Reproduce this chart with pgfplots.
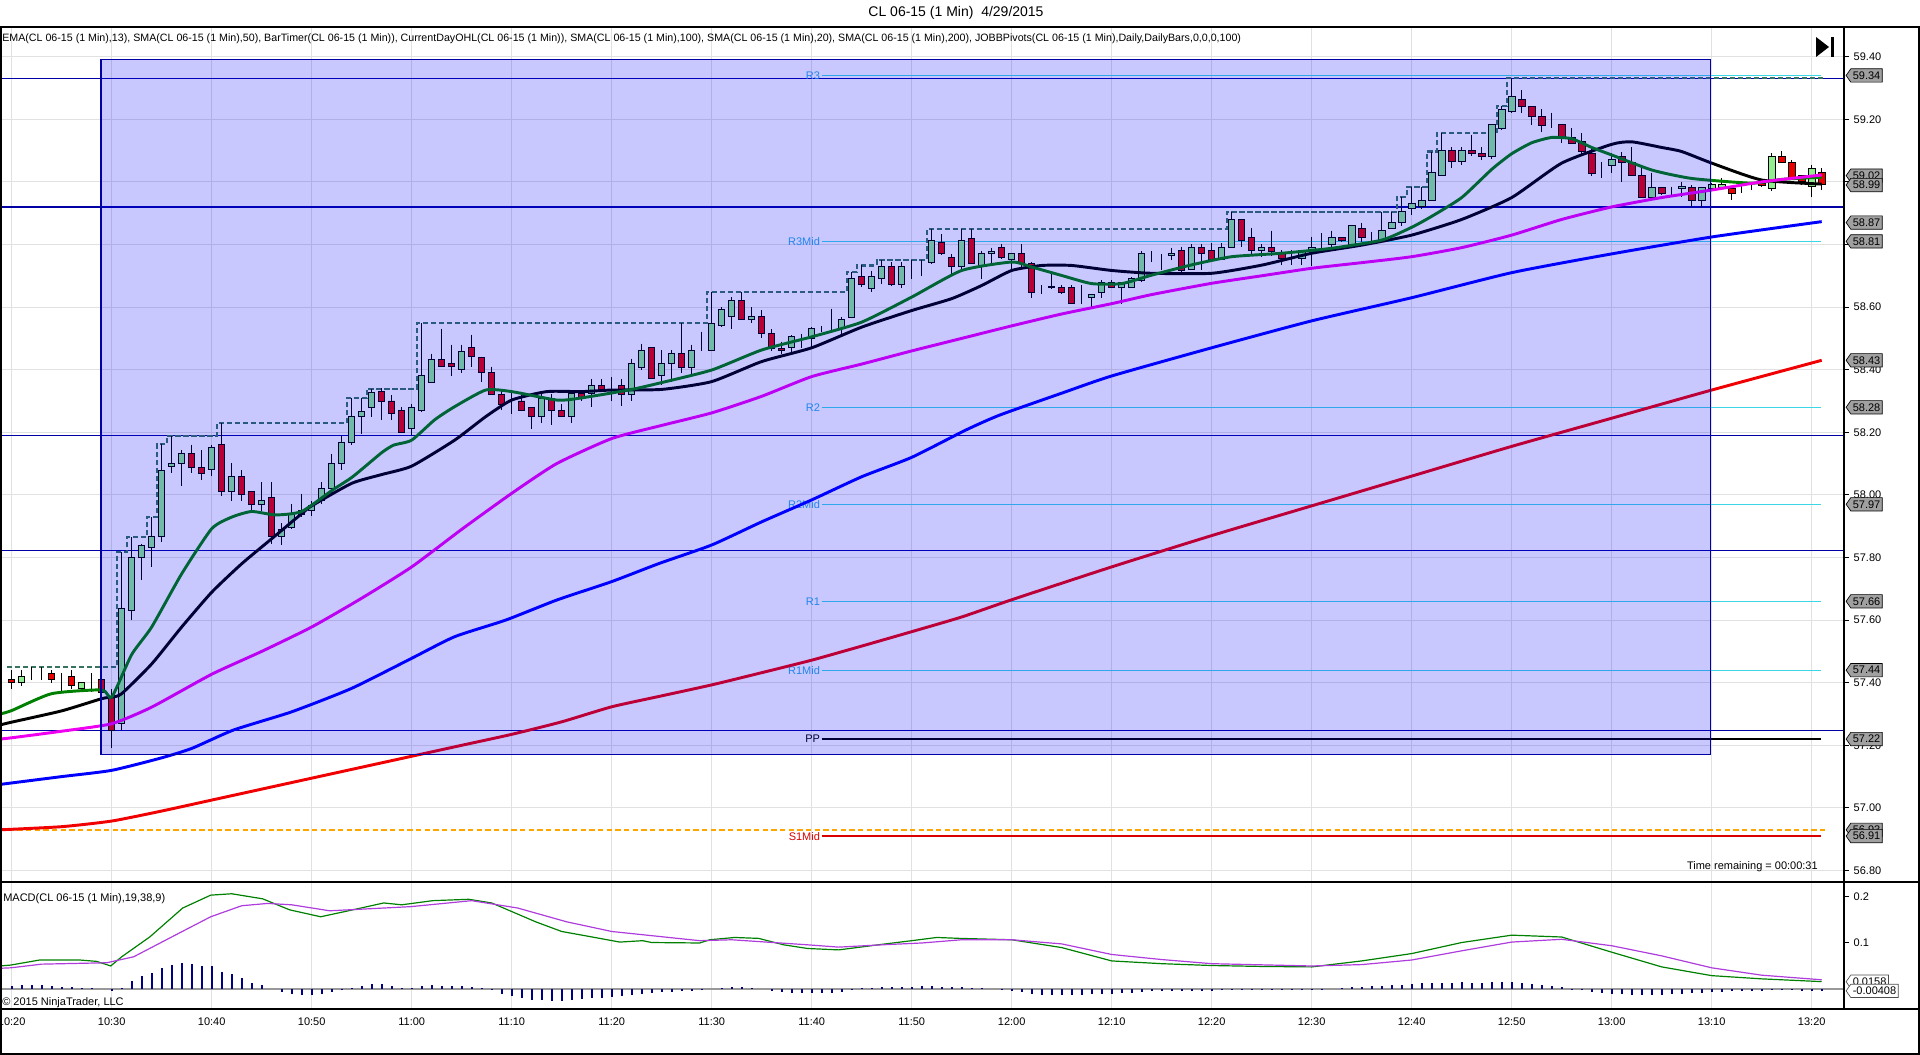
\documentclass[border=0pt]{standalone}
\usepackage{pgfplots}
\pgfplotsset{compat=1.18}
\usepackage{pgfplotstable}
\usepackage{fontspec}
\setmainfont{Liberation Sans}
\usetikzlibrary{shapes.symbols}

\definecolor{upc}{RGB}{144,238,144}
\definecolor{dnc}{RGB}{235,0,0}
\definecolor{emac}{RGB}{0,128,0}
\definecolor{magc}{RGB}{240,0,240}
\definecolor{bluec}{RGB}{0,0,255}
\definecolor{redc}{RGB}{240,0,0}
\definecolor{navyl}{RGB}{0,0,165}
\definecolor{pivc}{RGB}{60,215,230}
\definecolor{pivt}{RGB}{40,170,230}
\definecolor{ohlc}{RGB}{55,115,95}
\definecolor{gridc}{RGB}{225,225,225}
\definecolor{avgc}{RGB}{175,60,220}
\definecolor{histc}{RGB}{0,0,130}
\definecolor{tagc}{RGB}{160,160,160}
\definecolor{orangec}{RGB}{255,165,0}

\newcommand\sm{\fontsize{8.25}{9.9}\selectfont}

% minute (since 10:00), open, high, low, close
\pgfplotstableread{
m o h l c
20 57.410 57.440 57.380 57.400
21 57.400 57.440 57.390 57.420
22 57.430 57.450 57.410 57.430
23 57.430 57.450 57.410 57.430
24 57.430 57.440 57.400 57.410
25 57.410 57.430 57.370 57.410
26 57.420 57.440 57.380 57.390
27 57.380 57.400 57.370 57.400
28 57.390 57.430 57.370 57.390
29 57.410 57.410 57.370 57.370
30 57.354 57.380 57.190 57.248
31 57.270 57.817 57.250 57.638
32 57.631 57.865 57.599 57.799
33 57.799 57.844 57.727 57.839
34 57.833 57.929 57.769 57.867
35 57.867 58.163 57.849 58.078
36 58.090 58.189 58.070 58.100
37 58.102 58.142 58.028 58.131
38 58.131 58.161 58.070 58.089
39 58.089 58.142 58.048 58.070
40 58.080 58.161 58.059 58.150
41 58.160 58.229 57.998 58.011
42 58.011 58.102 57.982 58.060
43 58.060 58.078 57.982 58.000
44 58.011 58.011 57.950 57.970
45 57.970 58.041 57.950 57.982
46 57.991 58.041 57.844 57.868
47 57.868 57.910 57.839 57.889
48 57.897 57.970 57.892 57.937
49 57.937 58.004 57.929 57.950
50 57.950 57.982 57.934 57.965
51 57.982 58.041 57.970 58.020
52 58.020 58.131 58.004 58.100
53 58.100 58.189 58.078 58.169
54 58.169 58.310 58.158 58.249
55 58.249 58.310 58.195 58.268
56 58.280 58.339 58.249 58.328
57 58.330 58.340 58.240 58.300
58 58.300 58.318 58.238 58.259
59 58.270 58.281 58.199 58.199
60 58.211 58.291 58.190 58.280
61 58.270 58.549 58.265 58.382
62 58.360 58.451 58.360 58.432
63 58.432 58.531 58.410 58.410
64 58.419 58.480 58.380 58.410
65 58.400 58.480 58.390 58.459
66 58.470 58.512 58.408 58.442
67 58.440 58.442 58.360 58.390
68 58.390 58.410 58.321 58.321
69 58.321 58.339 58.270 58.289
70 58.293 58.328 58.259 58.293
71 58.300 58.330 58.270 58.270
72 58.280 58.280 58.211 58.249
73 58.249 58.323 58.229 58.309
74 58.309 58.323 58.222 58.270
75 58.270 58.290 58.251 58.251
76 58.251 58.330 58.229 58.323
77 58.323 58.330 58.300 58.310
78 58.323 58.371 58.280 58.350
79 58.350 58.371 58.330 58.336
80 58.344 58.376 58.300 58.344
81 58.350 58.371 58.283 58.321
82 58.321 58.435 58.300 58.419
83 58.408 58.483 58.400 58.462
84 58.470 58.470 58.371 58.371
85 58.380 58.462 58.350 58.419
86 58.419 58.462 58.360 58.451
87 58.451 58.549 58.390 58.408
88 58.408 58.480 58.380 58.462
89 58.470 58.522 58.460 58.470
90 58.462 58.648 58.460 58.549
91 58.541 58.600 58.535 58.591
92 58.570 58.632 58.531 58.621
93 58.621 58.648 58.560 58.560
94 58.560 58.600 58.550 58.570
95 58.570 58.590 58.500 58.515
96 58.515 58.530 58.460 58.467
97 58.467 58.490 58.450 58.460
98 58.470 58.510 58.450 58.507
99 58.499 58.515 58.470 58.499
100 58.499 58.536 58.470 58.531
101 58.531 58.540 58.520 58.531
102 58.531 58.595 58.525 58.531
103 58.531 58.568 58.504 58.560
104 58.568 58.712 58.568 58.690
105 58.698 58.733 58.664 58.671
106 58.659 58.716 58.648 58.698
107 58.690 58.751 58.675 58.730
108 58.730 58.744 58.668 58.671
109 58.671 58.744 58.660 58.730
110 58.733 58.751 58.690 58.733
111 58.738 58.751 58.700 58.738
112 58.744 58.850 58.738 58.813
113 58.808 58.834 58.765 58.770
114 58.760 58.770 58.702 58.730
115 58.730 58.850 58.717 58.813
116 58.820 58.850 58.738 58.740
117 58.733 58.780 58.690 58.770
118 58.770 58.790 58.738 58.779
119 58.790 58.800 58.754 58.760
120 58.751 58.770 58.722 58.770
121 58.770 58.800 58.728 58.740
122 58.740 58.744 58.629 58.648
123 58.659 58.669 58.643 58.659
124 58.662 58.706 58.659 58.666
125 58.662 58.669 58.641 58.648
126 58.662 58.669 58.611 58.611
127 58.621 58.669 58.611 58.621
128 58.630 58.640 58.600 58.640
129 58.648 58.685 58.630 58.680
130 58.680 58.685 58.662 58.662
131 58.662 58.680 58.611 58.680
132 58.662 58.695 58.662 58.690
133 58.685 58.779 58.680 58.770
134 58.761 58.780 58.745 58.761
135 58.761 58.770 58.720 58.761
136 58.764 58.790 58.750 58.772
137 58.780 58.793 58.710 58.718
138 58.720 58.800 58.718 58.790
139 58.790 58.800 58.720 58.770
140 58.780 58.804 58.745 58.752
141 58.752 58.804 58.750 58.790
142 58.790 58.905 58.788 58.880
143 58.880 58.880 58.793 58.814
144 58.823 58.852 58.766 58.780
145 58.780 58.800 58.761 58.790
146 58.790 58.844 58.763 58.777
147 58.772 58.782 58.734 58.756
148 58.761 58.782 58.734 58.761
149 58.756 58.782 58.734 58.780
150 58.777 58.825 58.731 58.790
151 58.804 58.836 58.788 58.804
152 58.800 58.844 58.793 58.823
153 58.823 58.823 58.809 58.814
154 58.800 58.862 58.798 58.862
155 58.851 58.870 58.809 58.823
156 58.823 58.841 58.809 58.823
157 58.814 58.905 58.814 58.844
158 58.851 58.905 58.851 58.871
159 58.871 58.953 58.859 58.905
160 58.916 58.985 58.894 58.932
161 58.921 58.985 58.912 58.942
162 58.942 59.097 58.942 59.030
163 59.020 59.155 59.020 59.100
164 59.100 59.110 59.043 59.065
165 59.065 59.110 59.054 59.100
166 59.100 59.150 59.083 59.090
167 59.090 59.110 59.070 59.080
168 59.080 59.182 59.072 59.182
169 59.171 59.243 59.166 59.232
170 59.224 59.331 59.219 59.274
171 59.264 59.294 59.221 59.240
172 59.240 59.240 59.182 59.210
173 59.210 59.232 59.160 59.179
174 59.192 59.221 59.171 59.192
175 59.182 59.182 59.123 59.140
176 59.142 59.171 59.123 59.123
177 59.128 59.155 59.090 59.097
178 59.092 59.107 59.019 59.027
179 59.043 59.065 59.011 59.043
180 59.054 59.091 59.027 59.072
181 59.080 59.094 59.001 59.061
182 59.061 59.110 59.022 59.022
183 59.022 59.043 58.951 58.951
184 58.951 59.030 58.951 58.983
185 58.983 58.985 58.958 58.964
186 58.961 58.985 58.951 58.961
187 58.978 59.001 58.951 58.985
188 58.983 58.990 58.921 58.942
189 58.942 58.985 58.921 58.983
190 58.980 58.995 58.972 58.993
191 58.983 59.011 58.980 58.993
192 58.980 58.985 58.942 58.964
193 58.980 58.995 58.966 58.980
194 58.990 59.001 58.974 58.990
195 58.995 59.006 58.985 58.990
196 58.980 59.091 58.972 59.081
197 59.081 59.100 59.061 59.061
198 59.061 59.070 59.006 59.011
199 59.019 59.022 58.990 59.001
200 58.985 59.054 58.951 59.043
201 59.030 59.043 58.974 58.993
}\candles

% MACD histogram (diff)
\pgfplotstableread{
m d
20 0.007
21 0.008
22 0.008
23 0.008
24 0.007
25 0.005
26 0.004
27 0.003
28 0.002
29 0.000
30 -0.004
31 0.003
32 0.017
33 0.028
34 0.034
35 0.045
36 0.052
37 0.056
38 0.054
39 0.051
40 0.049
41 0.038
42 0.033
43 0.023
44 0.014
45 0.009
46 0.000
47 -0.006
48 -0.010
49 -0.012
50 -0.012
51 -0.010
52 -0.006
53 -0.003
54 0.003
55 0.006
56 0.010
57 0.010
58 0.006
59 0.003
60 0.003
61 0.006
62 0.008
63 0.007
64 0.006
65 0.006
66 0.004
67 0.002
68 -0.003
69 -0.010
70 -0.015
71 -0.020
72 -0.023
73 -0.025
74 -0.026
75 -0.026
76 -0.025
77 -0.022
78 -0.020
79 -0.019
80 -0.018
81 -0.016
82 -0.013
83 -0.010
84 -0.008
85 -0.007
86 -0.006
87 -0.005
88 -0.004
89 -0.002
90 0.000
91 0.002
92 0.005
93 0.004
94 0.003
95 0.000
96 -0.004
97 -0.007
98 -0.008
99 -0.008
100 -0.008
101 -0.008
102 -0.008
103 -0.007
104 -0.002
105 0.002
106 0.003
107 0.005
108 0.004
109 0.005
110 0.005
111 0.006
112 0.007
113 0.005
114 0.004
115 0.004
116 0.003
117 0.002
118 0.000
119 -0.002
120 -0.004
121 -0.007
122 -0.010
123 -0.012
124 -0.013
125 -0.013
126 -0.013
127 -0.012
128 -0.011
129 -0.010
130 -0.010
131 -0.009
132 -0.008
133 -0.006
134 -0.005
135 -0.005
136 -0.004
137 -0.005
138 -0.004
139 -0.004
140 -0.004
141 -0.003
142 -0.002
143 -0.003
144 -0.003
145 -0.003
146 -0.003
147 -0.003
148 -0.003
149 -0.002
150 -0.002
151 -0.001
152 0.000
153 0.002
154 0.004
155 0.005
156 0.006
157 0.007
158 0.008
159 0.009
160 0.011
161 0.012
162 0.013
163 0.014
164 0.014
165 0.015
166 0.014
167 0.014
168 0.015
169 0.016
170 0.015
171 0.013
172 0.011
173 0.009
174 0.007
175 0.004
176 0.001
177 -0.002
178 -0.006
179 -0.008
180 -0.010
181 -0.011
182 -0.012
183 -0.013
184 -0.013
185 -0.012
186 -0.011
187 -0.010
188 -0.009
189 -0.008
190 -0.007
191 -0.006
192 -0.005
193 -0.004
194 -0.004
195 -0.004
196 -0.002
197 -0.002
198 -0.003
199 -0.004
200 -0.004
201 -0.004
}\hist

\pgfplotsset{
  chart/.style={scale only axis, width=1383pt, xmin=18.83, xmax=203.23,
    anchor=south west, clip mode=individual},
  mainy/.style={at={(0pt,129.75pt)}, height=641.25pt, ymin=56.7633, ymax=59.4949},
  ma/.style={line width=2.2pt, smooth, tension=0.35},
}
\tikzset{
  tag/.style={signal, signal to=west, signal pointer angle=110, fill=tagc,
    draw=black, line width=0.5pt, anchor=west, inner xsep=1.5pt, inner ysep=0.8pt,
    font=\sm, minimum height=10pt},
  wtag/.style={tag, fill=white, draw=black!70},
  plab/.style={anchor=east, font=\sm, inner sep=0pt, text=pivt},
}

\begin{document}
\begin{tikzpicture}[x=0.75pt, y=0.75pt]
\path[use as bounding box] (0,0) rectangle (1920,1055);

% ---------- main price panel: grid, levels, wicks
\begin{axis}[chart, mainy,
  axis line style={draw=none},
  xtick={20,30,...,200}, xticklabels={}, xtick style={draw=none},
  ytick={56.8,57.0,57.2,57.4,57.6,57.8,58.0,58.2,58.4,58.6,58.8,59.0,59.2,59.4},
  ytick pos=right, yticklabel pos=right, ytick align=outside,
  major tick length=3.75pt, ytick style={black, line width=0.75pt},
  yticklabel style={font=\sm, /pgf/number format/.cd, fixed, fixed zerofill,
    precision=2, assume math mode=true},
  grid=major, major grid style={gridc, line width=0.75pt}]

% navy horizontal levels
\addplot[navyl, line width=0.9pt] coordinates {(18.83,59.331) (203.23,59.331)};
\addplot[navyl, line width=0.9pt] coordinates {(18.83,58.920) (203.23,58.920)};
\addplot[navyl, line width=0.9pt] coordinates {(18.83,58.191) (203.23,58.191)};
\addplot[navyl, line width=0.9pt] coordinates {(18.83,57.823) (203.23,57.823)};
\addplot[navyl, line width=0.9pt] coordinates {(18.83,57.248) (203.23,57.248)};

% pivots
\addplot[pivc, line width=0.9pt] coordinates {(101,59.34) (200.9,59.34)};
\addplot[pivc, line width=0.9pt] coordinates {(101,58.81) (200.9,58.81)};
\addplot[pivc, line width=0.9pt] coordinates {(101,58.28) (200.9,58.28)};
\addplot[pivc, line width=0.9pt] coordinates {(101,57.97) (200.9,57.97)};
\addplot[pivc, line width=0.9pt] coordinates {(101,57.66) (200.9,57.66)};
\addplot[pivc, line width=0.9pt] coordinates {(101,57.44) (200.9,57.44)};
\addplot[black, line width=0.9pt] coordinates {(101,57.22) (200.9,57.22)};
\addplot[red!85!black, line width=0.9pt] coordinates {(101,56.91) (200.9,56.91)};
\addplot[orangec, line width=1.3pt, dash pattern=on 4pt off 2.5pt] coordinates {(18.83,56.93) (201.4,56.93)};

\node[plab] at (axis cs:100.85,59.34) {R3};
\node[plab] at (axis cs:100.85,58.81) {R3Mid};
\node[plab] at (axis cs:100.85,58.28) {R2};
\node[plab] at (axis cs:100.85,57.97) {R2Mid};
\node[plab] at (axis cs:100.85,57.66) {R1};
\node[plab] at (axis cs:100.85,57.44) {R1Mid};
\node[plab, text=black] at (axis cs:100.85,57.22) {PP};
\node[plab, text=red!85!black] at (axis cs:100.85,56.91) {S1Mid};

% current day high (step)
\addplot[ohlc, line width=1.6pt, dash pattern=on 4pt off 2pt, const plot] coordinates {
(19.5,57.45) (30.5,57.817) (31.5,57.865) (33.5,57.929) (34.5,58.163) (35.5,58.189)
(40.5,58.229) (53.5,58.310) (55.5,58.339) (60.5,58.549) (89.5,58.648) (103.5,58.712)
(104.5,58.733) (106.5,58.751) (111.5,58.85) (141.5,58.905) (158.5,58.953) (159.5,58.985)
(161.5,59.097) (162.5,59.155) (168.5,59.243) (169.5,59.331) (201.4,59.331)};

% wicks
\addplot[draw=none, mark=none,
  error bars/.cd, y dir=minus, y explicit, error mark=none,
  error bar style={draw=black, solid, line width=0.75pt}]
  table[x=m, y=h, y error minus expr={\thisrow{h}-\thisrow{l}}] {\candles};

% value tags
\node[tag] at (axis cs:203.4,59.34) {59.34};
\node[tag] at (axis cs:203.4,59.02) {59.02};
\node[tag] at (axis cs:203.4,58.99) {58.99};
\node[tag] at (axis cs:203.4,58.87) {58.87};
\node[tag] at (axis cs:203.4,58.81) {58.81};
\node[tag] at (axis cs:203.4,58.43) {58.43};
\node[tag] at (axis cs:203.4,58.28) {58.28};
\node[tag] at (axis cs:203.4,57.97) {57.97};
\node[tag] at (axis cs:203.4,57.66) {57.66};
\node[tag] at (axis cs:203.4,57.44) {57.44};
\node[tag] at (axis cs:203.4,57.22) {57.22};
\node[tag] at (axis cs:203.4,56.93) {56.93};
\node[tag] at (axis cs:203.4,56.91) {56.91};
\end{axis}

% ---------- candle bodies
\begin{axis}[chart, mainy, hide axis, ybar stacked, bar width=4.875pt]
\addplot[draw=none, fill=none] table[x=m, y expr={min(\thisrow{o},\thisrow{c})}] {\candles};
\addplot[fill=upc, draw=black, line width=0.7pt] table[x=m, y expr={max(\thisrow{c}-\thisrow{o},0)}] {\candles};
\addplot[fill=dnc, draw=black, line width=0.7pt] table[x=m, y expr={max(\thisrow{o}-\thisrow{c},0)}] {\candles};
\end{axis}

% ---------- moving averages and drawing overlay
\begin{axis}[chart, mainy, hide axis]
% SMA 200
\addplot[redc, ma] coordinates {
(18.83,56.93) (25,56.94) (30,56.958) (35,56.99) (40,57.025) (45,57.06) (50,57.095) (55,57.13)
(60,57.165) (65,57.20) (70,57.235) (75,57.275) (80,57.323) (85,57.358) (90,57.393) (95,57.432)
(100,57.472) (105,57.517) (110,57.563) (115,57.61) (120,57.665) (130,57.77) (140,57.87)
(150,57.965) (160,58.06) (170,58.155) (180,58.245) (190,58.335) (201,58.43)};
% SMA 100
\addplot[bluec, ma] coordinates {
(18.83,57.075) (25,57.10) (30,57.12) (35,57.16) (38,57.19) (42.2,57.249) (48,57.307)
(54,57.382) (60,57.478) (64.3,57.547) (69.4,57.60) (74.5,57.664) (80,57.723) (84.75,57.781)
(90,57.84) (95,57.914) (100,57.984) (105,58.058) (110,58.12) (115.4,58.207) (118.8,58.255)
(125,58.325) (130,58.38) (140,58.47) (150,58.556) (160,58.63) (170,58.71) (180,58.77)
(190,58.824) (201,58.873)};
% SMA 20
\addplot[black, ma] coordinates {
(18.83,57.265) (20,57.274) (25,57.31) (29,57.349) (30,57.354) (31,57.365) (34,57.46) (37,57.578)
(40,57.689) (43,57.78) (46,57.86) (49,57.94) (50,57.965) (54,58.037) (57,58.065) (60,58.092)
(64.3,58.175) (67.4,58.25) (70,58.303) (73.5,58.33) (77,58.33) (80,58.335) (85,58.337)
(90,58.362) (95,58.426) (100,58.47) (105,58.536) (110,58.589)
(114,58.627) (117,58.669) (120,58.717) (123,58.733) (126,58.733) (130,58.717) (134,58.708)
(140,58.708) (145,58.734) (150,58.772) (155,58.798) (160,58.83) (165,58.88) (170,58.95)
(175,59.06) (180,59.12) (182,59.128) (185,59.11) (187,59.097) (190,59.06) (195,59.006) (201,58.993)};
% EMA 13
\addplot[emac, ma] coordinates {
(18.83,57.30) (20,57.311) (24,57.365) (29,57.377) (30,57.354) (32,57.49) (34,57.578)
(37,57.748) (40,57.892) (42,57.929) (44,57.947) (46.4,57.936) (49,57.947) (52.1,58.016)
(54.1,58.058) (57,58.135) (58.2,58.159) (60,58.175) (62.3,58.24) (64.3,58.282) (67.4,58.335)
(70,58.33) (74.5,58.303) (76.6,58.308) (81.7,58.335) (84.75,58.357) (90,58.399) (95,58.463)
(100,58.505) (105,58.552) (110,58.632) (115,58.717) (120,58.744) (122,58.728)
(125,58.701) (128,58.675) (131,58.675) (134,58.702) (138,58.735) (142,58.761) (147,58.772)
(152,58.788) (157,58.814) (160,58.855) (162,58.89) (165,58.95) (168,59.04) (170,59.09)
(172,59.125) (174,59.142) (176,59.138) (178,59.11) (180,59.086) (184,59.038) (188,59.011)
(194,58.996) (197,59.008) (201,59.015)};
% SMA 50
\addplot[magc, ma] coordinates {
(18.83,57.22) (20,57.224) (25,57.245) (30,57.269) (34,57.322) (40,57.427) (45,57.50)
(50,57.578) (55,57.67) (60,57.77) (65,57.89) (70,58.005) (74.5,58.10) (80,58.18)
(85,58.222) (90,58.262) (95,58.315) (100,58.378) (105,58.418) (110,58.46) (115,58.50)
(120,58.54) (125,58.578) (130,58.611) (134,58.64) (140,58.676) (145,58.70) (150,58.724)
(155,58.742) (160,58.761) (165,58.79) (170,58.83) (175,58.88) (180,58.92) (185,58.95)
(190,58.974) (195,59.0) (201,59.022)};

\fill[blue, fill opacity=0.216] (axis cs:28.93,57.172) rectangle (axis cs:189.9,59.392);
\draw[navyl, line width=0.8pt] (axis cs:28.93,57.172) rectangle (axis cs:189.9,59.392);
\end{axis}

% ---------- MACD panel
\begin{axis}[chart, at={(0pt,34.5pt)}, height=95.25pt, ymin=-0.0435, ymax=0.2326,
  axis line style={draw=none},
  xtick={20,30,...,200},
  xticklabels={10:20,10:30,10:40,10:50,11:00,11:10,11:20,11:30,11:40,11:50,12:00,12:10,12:20,12:30,12:40,12:50,13:00,13:10,13:20},
  xtick style={draw=none}, xticklabel style={font=\sm, yshift=-3pt},
  ytick={0.1,0.2}, yticklabels={0.1,0.2},
  ytick pos=right, yticklabel pos=right, ytick align=outside,
  major tick length=3.75pt, ytick style={black, line width=0.75pt},
  yticklabel style={font=\sm},
  xmajorgrids, major grid style={gridc, line width=0.75pt}]
\addplot[black!40, line width=0.9pt] coordinates {(18.83,0) (203.23,0)};
\addplot[ycomb, histc, line width=1.6pt] table[x=m, y=d] {\hist};
\addplot[emac, line width=0.9pt] coordinates {
(18.83,0.05) (19.9,0.052) (22.8,0.063) (26.8,0.063) (28.5,0.06) (29.9,0.050) (31,0.07)
(33.8,0.113) (37.1,0.176) (39.9,0.204) (42,0.207) (45.1,0.196) (47.8,0.172) (50.9,0.157)
(54.1,0.172) (57.2,0.187) (59,0.183) (62.1,0.192) (65.7,0.195) (68,0.187) (72.4,0.146)
(75,0.125) (77.8,0.114) (80.8,0.102) (83.1,0.105) (84,0.101) (88.8,0.10) (89.8,0.107)
(92.3,0.112) (94.7,0.11) (97.2,0.096) (99.6,0.088) (102.7,0.085) (104.5,0.09) (107,0.097)
(110,0.105) (112.5,0.112) (114.8,0.110) (120,0.107) (125,0.09) (130,0.061) (135,0.055)
(140,0.051) (145,0.049) (150,0.048) (155,0.061) (160,0.077) (165,0.101) (170,0.117)
(175,0.113) (180,0.08) (185,0.048) (190,0.029) (195,0.022) (201,0.016)};
\addplot[avgc, line width=0.9pt] coordinates {
(18.83,0.045) (19.9,0.046) (23,0.054) (29.5,0.057) (32.2,0.070) (36.7,0.121) (39.9,0.157)
(43,0.181) (45.6,0.186) (48,0.183) (51.8,0.170) (54.5,0.173) (59.9,0.179) (66,0.192)
(70.6,0.176) (75.5,0.146) (80,0.125) (88.8,0.105) (92,0.107) (99.6,0.096) (102.7,0.091)
(107,0.096) (111,0.1) (115,0.107) (120,0.107) (125,0.098) (130,0.075) (135,0.064)
(140,0.055) (150,0.05) (155,0.053) (160,0.063) (165,0.083) (170,0.102) (175,0.108)
(180,0.094) (185,0.072) (190,0.046) (195,0.03) (201,0.02)};
\node[wtag] at (axis cs:203.4,0.0158) {0.0158};
\node[wtag] at (axis cs:203.4,-0.00408) {-0.00408};
\end{axis}

% ---------- frame and texts
\draw[black, line width=1.1pt] (0,1028) -- (1920,1028);
\draw[black, line width=1.1pt] (0,173) -- (1920,173);
\draw[black, line width=1.1pt] (0,46) -- (1920,46);
\draw[black, line width=1.1pt] (0,0.8) -- (1920,0.8);
\draw[black, line width=1.1pt] (0.8,0) -- (0.8,1028);
\draw[black, line width=1.1pt] (1919.2,0) -- (1919.2,1028);
\draw[black, line width=1.1pt] (1844,46) -- (1844,1028);

\node[font=\fontsize{10.5}{12}\selectfont] at (956,1042) {CL 06-15 (1 Min)\ \ 4/29/2015};
\node[anchor=west, font=\fontsize{8}{9.6}\selectfont, inner sep=0pt] at (2,1016) {EMA(CL 06-15 (1 Min),13), SMA(CL 06-15 (1 Min),50), BarTimer(CL 06-15 (1 Min)), CurrentDayOHL(CL 06-15 (1 Min)), SMA(CL 06-15 (1 Min),100), SMA(CL 06-15 (1 Min),20), SMA(CL 06-15 (1 Min),200), JOBBPivots(CL 06-15 (1 Min),Daily,DailyBars,0,0,0,100)};
\fill[black] (1816,1018) -- (1816,998) -- (1829,1008) -- cycle;
\fill[black] (1830.5,998) rectangle (1834,1018);
\node[anchor=east, font=\sm, inner sep=0pt] at (1818,188) {Time remaining = 00:00:31};
\node[anchor=west, font=\sm, inner sep=0pt] at (3,156) {MACD(CL 06-15 (1 Min),19,38,9)};
\node[anchor=west, font=\sm, inner sep=0pt] at (2,52) {\char"00A9\ 2015 NinjaTrader, LLC};
\end{tikzpicture}
\end{document}
